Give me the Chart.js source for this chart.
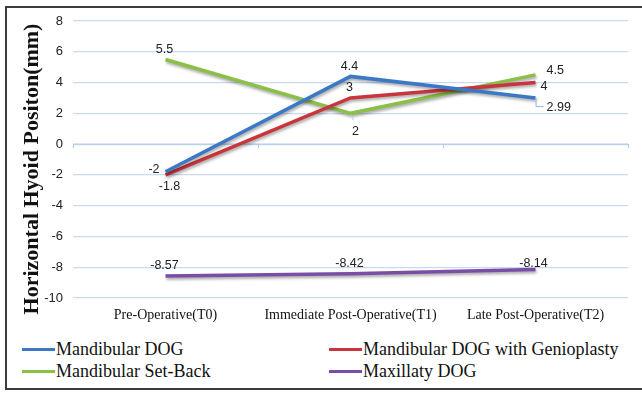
<!DOCTYPE html>
<html>
<head>
<meta charset="utf-8">
<script src="https://cdn.jsdelivr.net/npm/chart.js@4.4.1/dist/chart.umd.min.js"></script>
<style>
  html, body { margin: 0; padding: 0; background: #fff; }
  body { width: 642px; height: 395px; position: relative; overflow: hidden; }
  #frame {
    position: absolute; left: 5px; top: 6px; width: 660px; height: 384px;
    border: 2px solid #3c3c3c; box-sizing: border-box;
  }
  #plot { position: absolute; left: 0; top: 0; width: 642px; height: 330px; }
  #legend { position: absolute; left: 0; top: 338px; width: 642px; height: 48px; }
  .item {
    position: absolute; height: 22px; line-height: 22px; white-space: nowrap;
    font-family: 'Liberation Serif', serif; font-size: 18px; color: #111;
  }
  .swatch { display: inline-block; width: 33px; height: 3px; vertical-align: middle; margin-right: 1px; position: relative; top: -1px; }
</style>
</head>
<body>
<div id="frame"></div>
<div id="plot"><canvas id="c"></canvas></div>
<div id="legend"></div>
<script>
// Time points and series (horizontal hyoid position, mm)
const categories = ["Pre-Operative(T0)", "Immediate Post-Operative(T1)", "Late Post-Operative(T2)"];
const seriesNames = ["Mandibular DOG", "Mandibular DOG with Genioplasty", "Mandibular Set-Back", "Maxillaty DOG"];
const mandibularDog = [-1.8, 4.4, 2.99];
const mandibularDogGenioplasty = [-2, 3, 4];
const mandibularSetBack = [5.5, 2, 4.5];
const maxillaryDog = [-8.57, -8.42, -8.14];
const yTicks = [-10, -8, -6, -4, -2, 0, 2, 4, 6, 8];

const colors = ["#3b78c6", "#c8353b", "#8bbf47", "#7a4ea6"];
// where each value label sits relative to its point
const labelSides = [
  ["below", "above", "leader"],
  ["left", "above", "rightLow"],
  ["above", "belowLeader", "rightHigh"],
  ["above", "above", "aboveClose"]
];

const seriesValues = [mandibularDog, mandibularDogGenioplasty, mandibularSetBack, maxillaryDog];

const datasets = seriesValues.map((vals, i) => ({
  label: seriesNames[i],
  data: vals,
  borderColor: colors[i],
  backgroundColor: colors[i],
  borderWidth: 3.5,
  pointRadius: 0,
  tension: 0,
  labelSides: labelSides[i]
}));

// soft drop shadow under the series lines
const lineShadow = {
  id: "lineShadow",
  beforeDatasetsDraw(chart) {
    const ctx = chart.ctx;
    ctx.save();
    ctx.shadowColor = "rgba(0,0,0,0.35)";
    ctx.shadowBlur = 3;
    ctx.shadowOffsetX = 1;
    ctx.shadowOffsetY = 2;
  },
  afterDatasetsDraw(chart) {
    chart.ctx.restore();
  }
};

// category-boundary tick marks on the zero line
const zeroAxis = {
  id: "zeroAxis",
  beforeDatasetsDraw(chart) {
    const { ctx, chartArea, scales } = chart;
    const y0 = scales.y.getPixelForValue(0);
    const n = categories.length;
    ctx.save();
    ctx.strokeStyle = "#b3cbe8";
    ctx.lineWidth = 1.2;
    ctx.beginPath();
    ctx.moveTo(chartArea.left, y0);
    ctx.lineTo(chartArea.right, y0);
    for (let i = 0; i <= n; i++) {
      const x = Math.round(chartArea.left + i * (chartArea.right - chartArea.left) / n) + 0.5;
      ctx.moveTo(x, y0);
      ctx.lineTo(x, y0 + 4);
    }
    ctx.stroke();
    ctx.restore();
  }
};

// value labels beside each point
const valueLabels = {
  id: "valueLabels",
  afterDatasetsDraw(chart) {
    const ctx = chart.ctx;
    ctx.save();
    ctx.font = "12.5px 'Liberation Sans', Arial, sans-serif";
    ctx.fillStyle = "#222";
    chart.data.datasets.forEach((ds, di) => {
      const meta = chart.getDatasetMeta(di);
      meta.data.forEach((pt, i) => {
        const text = String(ds.data[i]);
        const side = ds.labelSides[i];
        let x = pt.x, y = pt.y;
        ctx.textBaseline = "middle";
        ctx.textAlign = "center";
        if (side === "above") { x -= 1; y -= 10; }
        else if (side === "aboveClose") { x -= 2; y -= 6; }
        else if (side === "below") { x += 4; y += 15; }
        else if (side === "left") { x -= 6; y -= 5; ctx.textAlign = "right"; }
        else if (side === "rightLow") { x += 5; y += 4; ctx.textAlign = "left"; }
        else if (side === "rightHigh") { x += 11; y -= 4; ctx.textAlign = "left"; }
        else if (side === "leader") {
          ctx.save();
          ctx.strokeStyle = "#8fb4e0";
          ctx.lineWidth = 1;
          ctx.beginPath();
          ctx.moveTo(pt.x + 0.5, pt.y);
          ctx.lineTo(pt.x + 0.5, pt.y + 8.5);
          ctx.lineTo(pt.x + 8, pt.y + 8.5);
          ctx.stroke();
          ctx.restore();
          x += 11; y += 9; ctx.textAlign = "left";
        }
        else if (side === "belowLeader") {
          ctx.save();
          ctx.strokeStyle = "#b7cde9";
          ctx.lineWidth = 1;
          ctx.beginPath();
          ctx.moveTo(pt.x, pt.y + 1);
          ctx.lineTo(pt.x + 3, pt.y + 7);
          ctx.stroke();
          ctx.restore();
          x += 5; y += 18;
        }
        ctx.fillText(text, x, y);
      });
    });
    ctx.restore();
  }
};

// rotated y-axis caption
const yCaption = {
  id: "yCaption",
  afterDraw(chart) {
    const ctx = chart.ctx;
    ctx.save();
    ctx.translate(32, 169);
    ctx.rotate(-Math.PI / 2);
    ctx.font = "bold 22px 'Liberation Serif', 'Times New Roman', serif";
    ctx.fillStyle = "#111";
    ctx.textAlign = "center";
    ctx.textBaseline = "middle";
    ctx.fillText("Horizontal Hyoid Positon(mm)", 0, 0);
    ctx.restore();
  }
};

const chart = new Chart(document.getElementById("c"), {
  type: "line",
  data: { labels: categories, datasets },
  options: {
    responsive: true,
    maintainAspectRatio: false,
    animation: false,
    layout: { padding: { top: 21, right: 14, bottom: 2, left: 0 } },
    plugins: { legend: { display: false }, tooltip: { enabled: false } },
    scales: {
      x: {
        type: "category",
        offset: true,
        grid: { display: false, drawTicks: false },
        border: { display: false },
        ticks: {
          font: { family: "'Liberation Serif', 'Times New Roman', serif", size: 14 },
          color: "#111",
          padding: 9,
          maxRotation: 0
        },
        afterFit(scale) { scale.height = 30; }
      },
      y: {
        min: -10,
        max: 8,
        afterBuildTicks(scale) { scale.ticks = yTicks.map(v => ({ value: v })); },
        grid: { color: "#c9dbf1", lineWidth: 1.2, drawTicks: false },
        border: { display: false },
        ticks: {
          font: { family: "'Liberation Sans', Arial, sans-serif", size: 13 },
          color: "#222",
          padding: 10
        },
        afterFit(scale) { scale.width = 73; }
      }
    }
  },
  plugins: [zeroAxis, lineShadow, valueLabels, yCaption]
});

// two-column legend built from the chart's datasets
const legendPositions = [[22, 0], [329, 0], [22, 22], [329, 22]];
const legendEl = document.getElementById("legend");
chart.data.datasets.forEach((ds, i) => {
  const item = document.createElement("div");
  item.className = "item";
  item.style.left = legendPositions[i][0] + "px";
  item.style.top = legendPositions[i][1] + "px";
  const sw = document.createElement("span");
  sw.className = "swatch";
  sw.style.background = ds.borderColor;
  item.appendChild(sw);
  item.appendChild(document.createTextNode(ds.label));
  legendEl.appendChild(item);
});
</script>
</body>
</html>
